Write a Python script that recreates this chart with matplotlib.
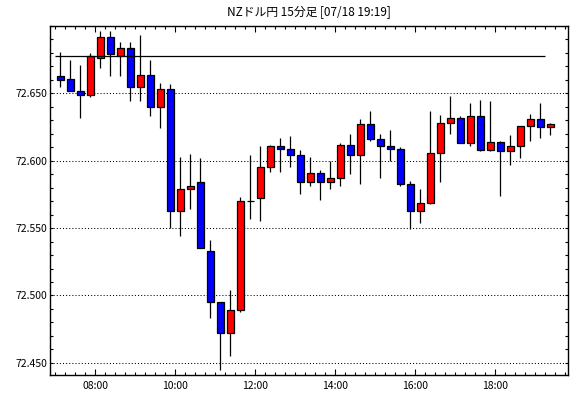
import pandas as pd
import numpy as np
import matplotlib
matplotlib.use('Agg')
import matplotlib.pyplot as plt
import matplotlib.dates as mdates
from matplotlib.ticker import MultipleLocator, FixedLocator

plt.rcParams['font.family'] = ['Noto Sans CJK JP', 'DejaVu Sans']

# 15分足 OHLC (07:00 - 19:15)
opens = [72.663, 72.661, 72.652, 72.649, 72.676, 72.692, 72.678, 72.684, 72.655, 72.664,
         72.640, 72.653, 72.563, 72.579, 72.584, 72.533, 72.495, 72.472, 72.489, 72.570,
         72.572, 72.595, 72.611, 72.609, 72.604, 72.584, 72.591, 72.584, 72.587, 72.612,
         72.604, 72.627, 72.616, 72.611, 72.609, 72.583, 72.563, 72.569, 72.606, 72.628,
         72.632, 72.613, 72.633, 72.608, 72.614, 72.607, 72.611, 72.626, 72.631, 72.625]
highs = [72.681, 72.675, 72.671, 72.680, 72.696, 72.696, 72.688, 72.688, 72.693, 72.675,
         72.658, 72.657, 72.603, 72.605, 72.602, 72.541, 72.495, 72.504, 72.573, 72.604,
         72.611, 72.612, 72.617, 72.618, 72.608, 72.603, 72.593, 72.600, 72.613, 72.620,
         72.631, 72.637, 72.620, 72.623, 72.610, 72.585, 72.579, 72.637, 72.634, 72.648,
         72.633, 72.643, 72.645, 72.644, 72.615, 72.619, 72.626, 72.635, 72.643, 72.628]
lows = [72.655, 72.652, 72.632, 72.647, 72.669, 72.663, 72.663, 72.644, 72.644, 72.633,
        72.624, 72.550, 72.544, 72.564, 72.535, 72.483, 72.445, 72.455, 72.488, 72.557,
        72.555, 72.592, 72.592, 72.595, 72.575, 72.581, 72.571, 72.579, 72.581, 72.590,
        72.583, 72.615, 72.587, 72.600, 72.581, 72.549, 72.554, 72.568, 72.584, 72.620,
        72.613, 72.611, 72.607, 72.607, 72.574, 72.597, 72.602, 72.615, 72.617, 72.619]
closes = [72.660, 72.652, 72.649, 72.678, 72.692, 72.679, 72.684, 72.655, 72.664, 72.640,
          72.653, 72.563, 72.579, 72.581, 72.535, 72.495, 72.472, 72.489, 72.570, 72.570,
          72.595, 72.611, 72.609, 72.604, 72.584, 72.591, 72.584, 72.587, 72.612, 72.604,
          72.627, 72.616, 72.611, 72.609, 72.583, 72.563, 72.569, 72.606, 72.628, 72.632,
          72.613, 72.633, 72.608, 72.614, 72.607, 72.611, 72.626, 72.631, 72.625, 72.627]
price_levels = [72.450, 72.500, 72.550, 72.600, 72.650]
ref_level = 72.678
title = 'NZドル円 15分足 [07/18 19:19]'

times = pd.date_range('2024-07-18 07:00', periods=len(opens), freq='15min')
df = pd.DataFrame({'open': opens, 'high': highs, 'low': lows, 'close': closes}, index=times)

q = 15 / 1440  # 15分 (日単位)
x = mdates.date2num(df.index.to_pydatetime()) + q / 2
up = df['close'] >= df['open']
colors = np.where(up, '#ff0000', '#0000ff')
bottom = np.minimum(df['open'], df['close'])
height = np.abs(df['close'] - df['open'])

fig = plt.figure(figsize=(5.7, 3.98), dpi=100)
ax = fig.add_axes([50 / 570, 1 - 375 / 398, 517.5 / 570, 349 / 398])

# 横線（グリッド）
for lv in price_levels:
    ax.axhline(lv, color='black', lw=0.75, ls=(0, (1, 2)), zorder=1)

ax.vlines(x, df['low'], df['high'], color='black', lw=0.9, zorder=2)
ax.bar(x, height, width=q * 0.66, bottom=bottom, color=colors,
       edgecolor='black', linewidth=0.9, zorder=3)

t0 = mdates.date2num(times[0])
ax.hlines(ref_level, t0, t0 + 49 * q, color='black', lw=0.9, zorder=4)

ax.set_xlim(t0 - 7.95 / 1440, t0 + 768.3 / 1440)
ax.set_ylim(72.441, 72.700)

ax.xaxis.set_major_locator(FixedLocator(mdates.date2num(
    pd.date_range('2024-07-18 08:00', '2024-07-18 18:00', freq='2h').to_pydatetime())))
ax.xaxis.set_minor_locator(MultipleLocator(q))
ax.xaxis.set_major_formatter(mdates.DateFormatter('%H:%M'))
ax.yaxis.set_major_locator(FixedLocator(price_levels))
ax.yaxis.set_minor_locator(MultipleLocator(0.01))
ax.yaxis.set_major_formatter(matplotlib.ticker.FormatStrFormatter('%.3f'))

ax.tick_params(which='both', direction='in', top=True, right=True, width=0.8,
               labelsize=7.5, colors='black')
ax.tick_params(which='major', length=4, pad=4)
ax.tick_params(which='minor', length=2.2)
ax.tick_params(axis='y', which='major', length=2.2, pad=2)
for s in ax.spines.values():
    s.set_linewidth(1.0)

fig.text((50 + 567.5) / 2 / 570, 1 - 12 / 398, title, ha='center', va='center', fontsize=8.5)

plt.savefig('out.png', dpi=100)
